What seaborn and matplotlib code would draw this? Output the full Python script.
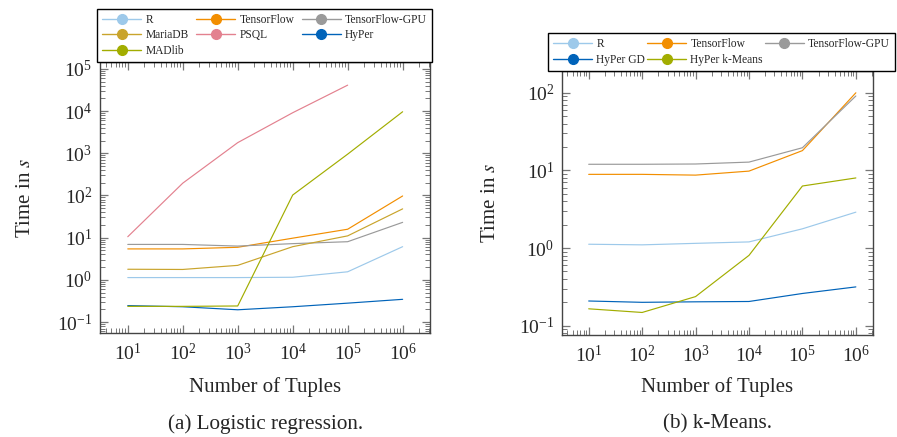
import numpy as np
import pandas as pd
import seaborn as sns
import matplotlib.pyplot as plt
from matplotlib.lines import Line2D
from matplotlib.ticker import LogLocator, NullFormatter

# Tuple counts on the x axis
tuples = [10, 100, 1000, 10000, 100000, 1000000]

# (a) Logistic regression, runtime in seconds
lr_r = [1.13, 1.13, 1.13, 1.15, 1.55, 6.1]
lr_tensorflow = [5.4, 5.4, 5.9, 9.7, 15.8, 97]
lr_tensorflow_gpu = [6.9, 6.9, 6.3, 7.2, 8.0, 23]
lr_mariadb = [1.78, 1.76, 2.2, 6.1, 11, 48]
lr_psql = [10.5, 195, 1780, 9100, 41000, np.nan]
lr_hyper = [0.245, 0.23, 0.195, 0.23, 0.28, 0.345]
lr_madlib = [0.235, 0.235, 0.24, 102, 950, 9600]

# (b) k-Means, runtime in seconds
km_r = [1.12, 1.1, 1.15, 1.2, 1.77, 2.9]
km_tensorflow = [8.9, 8.9, 8.7, 9.8, 18, 100]
km_tensorflow_gpu = [12, 12, 12.1, 12.8, 19.6, 91]
km_hyper_gd = [0.208, 0.2, 0.203, 0.205, 0.26, 0.316]
km_hyper_kmeans = [0.165, 0.148, 0.237, 0.805, 6.3, 8.0]

lr_names = ["R", "TensorFlow", "TensorFlow-GPU", "MariaDB", "PSQL", "HyPer", "MADlib"]
lr_values = [lr_r, lr_tensorflow, lr_tensorflow_gpu, lr_mariadb, lr_psql, lr_hyper, lr_madlib]
km_names = ["R", "TensorFlow", "TensorFlow-GPU", "HyPer GD", "HyPer k-Means"]
km_values = [km_r, km_tensorflow, km_tensorflow_gpu, km_hyper_gd, km_hyper_kmeans]

# legend order (matplotlib fills legend columns first)
lr_legend_order = ["R", "MariaDB", "MADlib", "TensorFlow", "PSQL", "TensorFlow-GPU", "HyPer"]
km_legend_order = ["R", "HyPer GD", "TensorFlow", "HyPer k-Means", "TensorFlow-GPU"]

colors = {
    "R": "#9dc9ea",
    "TensorFlow": "#f28e00",
    "TensorFlow-GPU": "#9a9a9a",
    "MariaDB": "#c9a42c",
    "PSQL": "#e3818f",
    "HyPer": "#0063b9",
    "HyPer GD": "#0063b9",
    "MADlib": "#a2ad00",
    "HyPer k-Means": "#a2ad00",
}

def long_frame(names, values):
    rows = []
    for name, vals in zip(names, values):
        for t, v in zip(tuples, vals):
            rows.append({"tuples": t, "time": v, "system": name})
    return pd.DataFrame(rows).dropna()

sns.set_theme(style="ticks")
plt.rcParams["font.family"] = ["Liberation Serif", "DejaVu Serif"]
plt.rcParams["mathtext.fontset"] = "stix"

fig = plt.figure(figsize=(8.97, 4.37), dpi=100)
ax1 = fig.add_axes([0.1115, 0.238, 0.368, 0.620])
ax2 = fig.add_axes([0.6265, 0.2334, 0.3467, 0.604])

panels = [
    dict(ax=ax1, names=lr_names, values=lr_values, order=lr_legend_order,
         xlim=(10**0.495, 10**6.5), ylim=(10**-1.26, 10**5.16),
         caption="(a) Logistic regression.", ylab_x=-0.197, xlab_y=-0.162,
         leg_box=(-0.009, 1.0, 1.015, 0.19), cap_y=-0.336),
    dict(ax=ax2, names=km_names, values=km_values, order=km_legend_order,
         xlim=(10**0.5, 10**6.32), ylim=(10**-1.12, 10**2.28),
         caption="(b) k-Means.", ylab_x=-0.200, xlab_y=-0.158,
         leg_box=(-0.045, 1.0, 1.116, 0.14), cap_y=-0.337),
]

for p in panels:
    ax = p["ax"]
    df = long_frame(p["names"], p["values"])
    sns.lineplot(data=df, x="tuples", y="time", hue="system", hue_order=p["names"],
                 palette=colors, lw=0.85, legend=False, ax=ax)
    ax.set_xscale("log")
    ax.set_yscale("log")
    ax.set_xlim(*p["xlim"])
    ax.set_ylim(*p["ylim"])
    ax.set_xticks(tuples)
    ax.yaxis.set_major_locator(LogLocator(base=10, numticks=20))
    ax.xaxis.set_minor_locator(LogLocator(base=10, subs=np.arange(2, 10), numticks=20))
    ax.yaxis.set_minor_locator(LogLocator(base=10, subs=np.arange(2, 10), numticks=20))
    ax.xaxis.set_minor_formatter(NullFormatter())
    ax.yaxis.set_minor_formatter(NullFormatter())
    ax.tick_params(which="both", direction="in", top=True, right=True,
                   color="#777777", labelsize=14)
    ax.tick_params(which="major", length=6, width=0.9)
    ax.tick_params(axis="x", which="major", pad=7)
    ax.tick_params(axis="y", which="major", pad=5.5)
    ax.tick_params(which="minor", length=3.5, width=0.7)
    for sp in ax.spines.values():
        sp.set_color("#444444")
        sp.set_linewidth(1.0)
    ax.set_xlabel("Number of Tuples", fontsize=15)
    ax.set_ylabel("Time in $s$", fontsize=15)
    ax.xaxis.set_label_coords(0.5, p["xlab_y"])
    ax.yaxis.set_label_coords(p["ylab_x"], 0.5)
    ax.text(0.5, p["cap_y"], p["caption"], transform=ax.transAxes,
            ha="center", va="center", fontsize=15.2)

    handles = [Line2D([], [], color=colors[n], marker="o", markersize=7, lw=1) for n in p["order"]]
    ax.legend(handles, p["order"], loc="lower left", bbox_to_anchor=p["leg_box"], mode="expand",
              ncol=3, fontsize=8.3, frameon=True, fancybox=False, edgecolor="black",
              framealpha=1, borderaxespad=0, handlelength=3.4, handletextpad=0.35,
              columnspacing=0.4, labelspacing=0.3, borderpad=0.45)

fig.savefig("out.png", dpi=100)
